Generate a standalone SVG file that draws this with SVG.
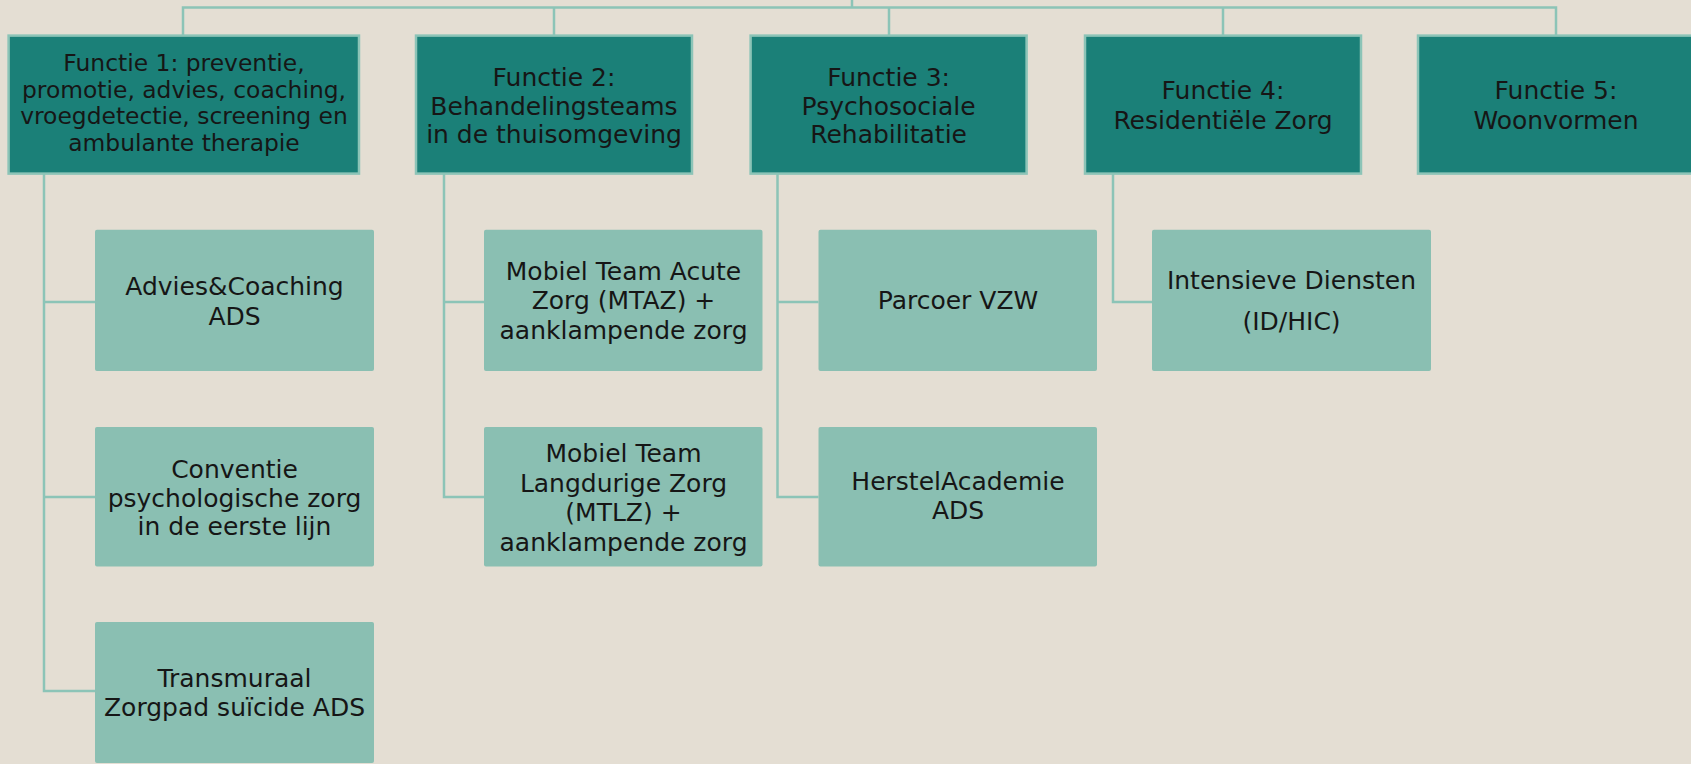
<svg xmlns="http://www.w3.org/2000/svg" width="1691" height="764" viewBox="0 0 1691 764">
<style>
.bg{fill:#E4DED3}
.top{fill:#1B8078;stroke:#8CC4B7;stroke-width:2.5}
.kid{fill:#8ABFB2}
.ln{fill:none;stroke:#8CC4B7;stroke-width:2.5}
text{font-family:"DejaVu Sans","Liberation Sans",sans-serif;fill:#161616;text-anchor:middle}
.t1{font-size:23.4px}
.t{font-size:25px}
.k{font-size:25px}
</style>
<rect class="bg" x="0" y="0" width="1691" height="764"/>
<g id="connectors">
<path class="ln" d="M852,0 V7.5 M183,35.6 V7.5 H1556 V35.6 M554,7.5 V35.6 M889,7.5 V35.6 M1223,7.5 V35.6"/>
<path class="ln" d="M44,173.6 V691 H95 M44,302 H95 M44,497 H95"/>
<path class="ln" d="M444,173.6 V497 H484 M444,302 H484"/>
<path class="ln" d="M777.5,173.6 V497 H818.5 M777.5,302 H818.5"/>
<path class="ln" d="M1113,173.6 V302 H1152"/>
</g>
<g id="f1">
<rect class="top" x="8.6" y="35.6" width="350.4" height="138"/>
<text class="t1" x="184" y="71">Functie 1: preventie,</text>
<text class="t1" x="184" y="97.5">promotie, advies, coaching,</text>
<text class="t1" x="184" y="124">vroegdetectie, screening en</text>
<text class="t1" x="184" y="150.5">ambulante therapie</text>
</g>
<g id="f2">
<rect class="top" x="416" y="35.6" width="276" height="138"/>
<text class="t" x="554" y="85.6">Functie 2:</text>
<text class="t" x="554" y="114.7">Behandelingsteams</text>
<text class="t" x="554" y="142.7">in de thuisomgeving</text>
</g>
<g id="f3">
<rect class="top" x="750.6" y="35.6" width="276" height="138"/>
<text class="t" x="888.6" y="85.6">Functie 3:</text>
<text class="t" x="888.6" y="114.7">Psychosociale</text>
<text class="t" x="888.6" y="142.7">Rehabilitatie</text>
</g>
<g id="f4">
<rect class="top" x="1085" y="35.6" width="276" height="138"/>
<text class="t" x="1223" y="98.5">Functie 4:</text>
<text class="t" x="1223" y="128.7">Residentiële Zorg</text>
</g>
<g id="f5">
<rect class="top" x="1418" y="35.6" width="276" height="138"/>
<text class="t" x="1556" y="98.5">Functie 5:</text>
<text class="t" x="1556" y="128.7">Woonvormen</text>
</g>
<g id="advies">
<rect class="kid" x="95" y="229.7" width="279" height="141.3" rx="2"/>
<text class="k" x="234.5" y="294.5">Advies&amp;Coaching</text>
<text class="k" x="234.5" y="324.7">ADS</text>
</g>
<g id="conventie">
<rect class="kid" x="95" y="427" width="279" height="139.5" rx="2"/>
<text class="k" x="234.5" y="478">Conventie</text>
<text class="k" x="234.5" y="506.5">psychologische zorg</text>
<text class="k" x="234.5" y="535">in de eerste lijn</text>
</g>
<g id="transmuraal">
<rect class="kid" x="95" y="622" width="279" height="141" rx="2"/>
<text class="k" x="234.5" y="687">Transmuraal</text>
<text class="k" x="234.5" y="716">Zorgpad suïcide ADS</text>
</g>
<g id="mtaz">
<rect class="kid" x="484" y="229.7" width="278.5" height="141.3" rx="2"/>
<text class="k" x="623.5" y="280">Mobiel Team Acute</text>
<text class="k" x="623.5" y="309">Zorg (MTAZ) +</text>
<text class="k" x="623.5" y="338.5">aanklampende zorg</text>
</g>
<g id="mtlz">
<rect class="kid" x="484" y="427" width="278.5" height="139.5" rx="2"/>
<text class="k" x="623.5" y="462">Mobiel Team</text>
<text class="k" x="623.5" y="491.5">Langdurige Zorg</text>
<text class="k" x="623.5" y="521">(MTLZ) +</text>
<text class="k" x="623.5" y="550.5">aanklampende zorg</text>
</g>
<g id="parcoer">
<rect class="kid" x="818.5" y="229.7" width="278.5" height="141.3" rx="2"/>
<text class="k" x="958" y="309">Parcoer VZW</text>
</g>
<g id="herstel">
<rect class="kid" x="818.5" y="427" width="278.5" height="139.5" rx="2"/>
<text class="k" x="958" y="490">HerstelAcademie</text>
<text class="k" x="958" y="519">ADS</text>
</g>
<g id="intensieve">
<rect class="kid" x="1152" y="229.7" width="279" height="141.3" rx="2"/>
<text class="k" x="1291.5" y="289">Intensieve Diensten</text>
<text class="k" x="1291.5" y="330">(ID/HIC)</text>
</g>
</svg>
